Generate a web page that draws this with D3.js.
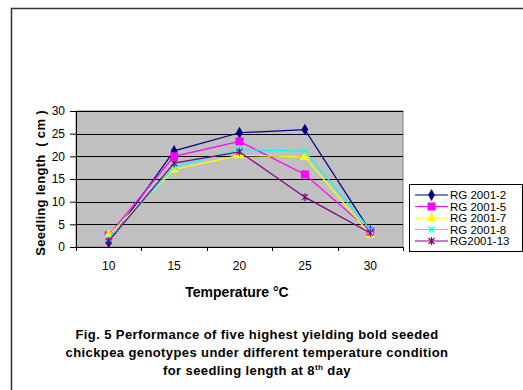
<!DOCTYPE html>
<html lang="en">
<head>
<meta charset="UTF-8">
<title>Seedling length</title>
<style>
    body { margin: 0; background: #fff; font-family: "Liberation Sans", Arial, sans-serif; }
    .grid line { stroke: #000; stroke-width: 1px; }
    .axis text { font-size: 12px; fill: #000; }
    .axis path, .axis line { stroke: #000; }
    .cap { font-weight: bold; white-space: pre; }
</style>
</head>
<body>
<svg id="chart" width="523" height="390"></svg>
<script src="https://d3js.org/d3.v7.min.js"></script>
<script>
    var temps = ["10", "15", "20", "25", "30"];
    var names = ["RG 2001-2", "RG 2001-5", "RG 2001-7", "RG 2001-8", "RG2001-13"];
    var rg2 = [1.1, 21.2, 25.2, 25.9, 3.5];
    var rg5 = [2.6, 20.0, 23.3, 16.0, 3.5];
    var rg7 = [2.6, 17.1, 20.2, 19.9, 2.7];
    var rg8 = [1.8, 17.7, 21.5, 21.1, 3.8];
    var rg13 = [1.3, 18.5, 21.0, 11.0, 3.1];
    var yTicks = [0, 5, 10, 15, 20, 25, 30];

    var series = [
        { name: names[0], values: rg2, color: "#000080", mark: "diamond" },
        { name: names[1], values: rg5, color: "#ff00ff", mark: "square" },
        { name: names[2], values: rg7, color: "#ffff00", mark: "triangle" },
        { name: names[3], values: rg8, color: "#00ffff", mark: "cross" },
        { name: names[4], values: rg13, color: "#800080", mark: "star" }
    ];

    var svg = d3.select("#chart");

    // outer frame
    svg.append("rect")
        .attr("x", 11.5).attr("y", 8.5)
        .attr("width", 530).attr("height", 400)
        .attr("fill", "none").attr("stroke", "#333").attr("stroke-width", 1.5);

    var pLeft = 76, pTop = 111, pRight = 403, pBottom = 247;

    var x = d3.scaleBand().domain(temps).range([pLeft, pRight]);
    var y = d3.scaleLinear().domain([0, 30]).range([pBottom, pTop]);

    svg.append("rect")
        .attr("x", pLeft).attr("y", pTop)
        .attr("width", pRight - pLeft).attr("height", pBottom - pTop)
        .attr("fill", "#c0c0c0").attr("stroke", "#808080");

    svg.append("g").attr("class", "grid")
        .selectAll("line").data(yTicks.slice(1)).join("line")
        .attr("x1", pLeft).attr("x2", pRight)
        .attr("y1", function (d) { return Math.round(y(d)) + 0.5; })
        .attr("y2", function (d) { return Math.round(y(d)) + 0.5; });

    var yAxis = svg.append("g").attr("class", "axis")
        .attr("transform", "translate(" + pLeft + ",0)")
        .call(d3.axisLeft(y).tickValues(yTicks).tickSize(6).tickPadding(5));
    yAxis.select(".domain").attr("d", "M0.5," + pTop + "V" + (pBottom + 0.5));

    var xAxis = svg.append("g").attr("class", "axis")
        .attr("transform", "translate(0," + (Math.round(pBottom) + 0.5) + ")")
        .call(d3.axisBottom(x).tickSize(0).tickPadding(14));
    xAxis.select(".domain").attr("d", "M" + pLeft + ",0H" + pRight);

    // category separator ticks
    svg.append("g").selectAll("line").data(temps).join("line")
        .attr("x1", function (d) { return Math.round(x(d)) + 0.5; })
        .attr("x2", function (d) { return Math.round(x(d)) + 0.5; })
        .attr("y1", pBottom).attr("y2", pBottom + 4)
        .attr("stroke", "#000");
    svg.append("line")
        .attr("x1", pRight + 0.5).attr("x2", pRight + 0.5)
        .attr("y1", pBottom).attr("y2", pBottom + 4).attr("stroke", "#000");

    function drawMark(g, type, color, cx, cy) {
        if (type === "diamond") {
            g.append("path").attr("d", d3.symbol(d3.symbolDiamond, 40)())
                .attr("transform", "translate(" + cx + "," + cy + ")").attr("fill", color);
        } else if (type === "square") {
            g.append("rect").attr("x", cx - 4).attr("y", cy - 4)
                .attr("width", 8).attr("height", 8).attr("fill", color);
        } else if (type === "triangle") {
            g.append("path").attr("d", d3.symbol(d3.symbolTriangle, 45)())
                .attr("transform", "translate(" + cx + "," + cy + ")").attr("fill", color);
        } else if (type === "cross") {
            g.append("path").attr("d", "M-3,-3L3,3M-3,3L3,-3")
                .attr("transform", "translate(" + cx + "," + cy + ")")
                .attr("stroke", color).attr("stroke-width", 1.2).attr("fill", "none");
        } else {
            g.append("path").attr("d", "M-3,-3L3,3M-3,3L3,-3M0,-4V4")
                .attr("transform", "translate(" + cx + "," + cy + ")")
                .attr("stroke", color).attr("stroke-width", 1.2).attr("fill", "none");
        }
    }

    var line = d3.line()
        .x(function (d, i) { return x(temps[i]) + x.bandwidth() / 2; })
        .y(function (d) { return y(d); });

    series.forEach(function (s) {
        var g = svg.append("g");
        g.append("path").datum(s.values)
            .attr("d", line).attr("fill", "none")
            .attr("stroke", s.color).attr("stroke-width", 1.2);
        s.values.forEach(function (v, i) {
            drawMark(g, s.mark, s.color, x(temps[i]) + x.bandwidth() / 2, y(v));
        });
    });

    // legend
    var lg = svg.append("g");
    lg.append("rect").attr("x", 409.5).attr("y", 184.5)
        .attr("width", 113).attr("height", 67)
        .attr("fill", "#fff").attr("stroke", "#000");
    series.forEach(function (s, i) {
        var ly = 195 + i * 11.5;
        lg.append("line").attr("x1", 415).attr("x2", 448)
            .attr("y1", ly).attr("y2", ly)
            .attr("stroke", s.color).attr("stroke-width", 1.2);
        drawMark(lg, s.mark, s.color, 431.5, ly);
        lg.append("text").attr("x", 450).attr("y", ly + 4)
            .style("font-size", "11.5px").text(s.name);
    });

    // axis titles
    svg.append("text")
        .attr("transform", "translate(45," + ((pTop + pBottom) / 2 + 4) + ") rotate(-90)")
        .attr("text-anchor", "middle").attr("class", "cap")
        .style("font-size", "13px").style("letter-spacing", "0.3px")
        .text("Seedling length  ( cm )");

    svg.append("text").attr("x", 237).attr("y", 297)
        .attr("text-anchor", "middle").attr("class", "cap")
        .style("font-size", "14px")
        .text("Temperature °C");

    var caption = svg.append("text").attr("class", "cap").attr("text-anchor", "middle")
        .style("font-size", "13px").style("letter-spacing", "0.4px");
    caption.append("tspan").attr("x", 257).attr("y", 339)
        .text("Fig. 5 Performance of five highest yielding bold seeded");
    caption.append("tspan").attr("x", 257).attr("y", 357)
        .text("chickpea genotypes under different temperature condition");
    var l3 = caption.append("tspan").attr("x", 257).attr("y", 375)
        .text("for seedling length at 8");
    l3.append("tspan").attr("dy", -5).style("font-size", "8px").text("th");
    l3.append("tspan").attr("dy", 5).text(" day");
</script>
</body>
</html>
